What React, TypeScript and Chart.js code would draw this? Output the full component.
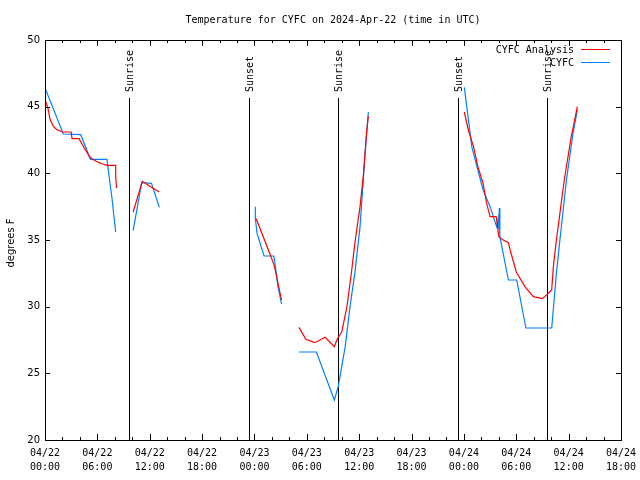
import React, { useEffect, useRef } from "react";
import { Chart, registerables } from "chart.js";

Chart.register(...registerables);

const TITLE = "Temperature for CYFC on 2024-Apr-22 (time in UTC)";
const Y_TITLE = "degrees F";
const SERIES_NAMES = ["CYFC Analysis", "CYFC"];
const SERIES_COLORS = ["#ff0000", "#0080ff"];

// hours since 2024-04-22 00:00 UTC; null temp = gap
const analysisHours = [
  0.0, 0.3, 0.6, 1.0, 1.3, 2.0, 3.0, 3.1, 3.9, 4.5, 5.1, 5.6, 6.2, 6.6, 7.1, 8.1, 8.1, 8.2,
  9.0,
  10.1, 11.15, 11.5, 12.2, 13.1,
  18.0,
  24.2, 25.9, 26.3, 27.1,
  28.0,
  29.1, 29.9, 30.9, 32.1, 33.15, 33.5, 34.0, 34.6, 35.15, 35.5, 36.1, 36.5, 36.85, 37.05,
  42.0,
  48.05, 48.5, 49.1, 49.6, 50.2, 50.6, 51.0, 51.7, 52.0, 52.5, 53.1, 53.3, 54.0, 55.0, 55.95,
  57.0, 57.5, 58.06, 58.25, 58.6, 59.0, 59.5, 60.3, 61.0,
];
const analysisTemps = [
  45.5, 45.0, 44.0, 43.5, 43.3, 43.1, 43.1, 42.6, 42.6, 41.9, 41.25, 41.0, 40.8, 40.7, 40.6, 40.6, 39.75, 38.9,
  null,
  37.1, 39.4, 39.25, 38.95, 38.6,
  null,
  36.6, 33.75, 33.0, 30.5,
  null,
  28.45, 27.55, 27.3, 27.7, 27.0, 27.6, 28.1, 30.0, 32.75, 34.75, 37.5, 40.0, 43.1, 44.3,
  null,
  44.6, 43.25, 42.0, 40.5, 39.25, 37.75, 36.75, 36.75, 35.25, 35.0, 34.8, 34.25, 32.6, 31.5, 30.75,
  30.6, 30.9, 31.25, 33.0, 35.0, 37.0, 39.5, 42.75, 45.0,
];

const obsHours = [
  0.0, 2.1, 4.1, 5.2, 7.1, 7.3, 7.7, 7.9, 8.1,
  9.0,
  10.1, 11.08, 12.2, 13.1,
  18.0,
  24.1, 24.1, 24.3, 25.1, 26.2, 26.3, 26.7, 27.1,
  28.0,
  29.1, 31.1, 33.15, 33.6, 34.4, 34.95, 35.5, 36.1, 36.65, 37.05,
  42.0,
  48.05, 48.9, 49.6, 50.2, 51.0, 51.75, 51.95, 52.0, 52.06, 52.12, 53.1, 54.05, 55.1, 58.06,
  58.6, 59.0, 59.75, 60.5, 61.0,
];
const obsTemps = [
  46.4, 42.95, 42.9, 41.05, 41.05, 40.0, 38.0, 36.75, 35.6,
  null,
  35.7, 39.3, 39.25, 37.45,
  null,
  37.5, 36.6, 35.5, 33.8, 33.8, 33.5, 31.5, 30.2,
  null,
  26.6, 26.6, 23.0, 24.0, 27.0, 30.0, 32.5, 36.0, 41.25, 44.6,
  null,
  46.45, 42.0, 40.25, 38.75, 37.5, 36.0, 36.7, 35.8, 37.4, 35.25, 32.0, 32.0, 28.4, 28.4,
  32.5, 35.0, 39.5, 43.0, 44.75,
];

const sunHours = [9.63, 23.38, 33.57, 47.32, 57.52];
const sunLabels = ["Sunrise", "Sunset", "Sunrise", "Sunset", "Sunrise"];
const SUN_LINE_TOP = 45.65;

const X_MIN = 0;
const X_MAX = 66;
const X_STEP = 6;
const X_MINOR = 2;
const Y_MIN = 20;
const Y_MAX = 50;
const Y_STEP = 5;
const MONTH = "04";
const START_DAY = 22;

const MONO = "'DejaVu Sans Mono', monospace";
const SANS = "'DejaVu Sans', sans-serif";

function toPoints(hours: number[], temps: (number | null)[]) {
  return hours.map((h, i) => ({ x: h, y: temps[i] }));
}

function fmtTick(v: number): string[] {
  const day = START_DAY + Math.floor(v / 24);
  const hr = Math.round(v % 24);
  return [`${MONTH}/${day}`, `${String(hr).padStart(2, "0")}:00`];
}

const decorPlugin = {
  id: "decor",
  beforeDatasetsDraw(chart: any) {
    const { ctx, chartArea, scales } = chart;
    const xs = scales.x;
    const ys = scales.y;
    ctx.save();
    ctx.strokeStyle = "#000";
    ctx.lineWidth = 1;
    ctx.fillStyle = "#000";
    ctx.font = `10px ${MONO}`;
    const topY = ys.getPixelForValue(SUN_LINE_TOP);
    sunHours.forEach((h, i) => {
      const px = Math.round(xs.getPixelForValue(h)) + 0.5;
      ctx.beginPath();
      ctx.moveTo(px, topY);
      ctx.lineTo(px, chartArea.bottom);
      ctx.stroke();
      ctx.save();
      ctx.translate(px + 1, topY - 6);
      ctx.rotate(-Math.PI / 2);
      ctx.textAlign = "left";
      ctx.textBaseline = "middle";
      ctx.fillText(sunLabels[i], 0, 0);
      ctx.restore();
    });
    ctx.restore();
  },
  afterDraw(chart: any) {
    const { ctx, chartArea, scales } = chart;
    const xs = scales.x;
    const ys = scales.y;
    const { left, right, top, bottom } = chartArea;
    ctx.save();
    ctx.strokeStyle = "#000";
    ctx.lineWidth = 1;
    ctx.strokeRect(Math.round(left) + 0.5, Math.round(top) + 0.5, Math.round(right - left), Math.round(bottom - top));
    ctx.beginPath();
    for (let v = Y_MIN; v <= Y_MAX; v += Y_STEP) {
      const py = Math.round(ys.getPixelForValue(v)) + 0.5;
      ctx.moveTo(left, py);
      ctx.lineTo(left + 5, py);
      ctx.moveTo(right, py);
      ctx.lineTo(right - 5, py);
    }
    for (let v = X_MIN; v <= X_MAX; v += X_MINOR) {
      const px = Math.round(xs.getPixelForValue(v)) + 0.5;
      const len = v % X_STEP === 0 ? 6 : 3;
      ctx.moveTo(px, bottom);
      ctx.lineTo(px, bottom - len);
      ctx.moveTo(px, top);
      ctx.lineTo(px, top + len);
    }
    ctx.stroke();
    ctx.fillStyle = "#000";
    ctx.font = `10px ${MONO}`;
    ctx.textAlign = "center";
    ctx.textBaseline = "middle";
    ctx.fillText(TITLE, (left + right) / 2, 20);
    ctx.save();
    ctx.translate(11, 243);
    ctx.rotate(-Math.PI / 2);
    ctx.font = `10px ${SANS}`;
    ctx.fillText(Y_TITLE, 0, 0);
    ctx.restore();
    ctx.font = `10px ${MONO}`;
    ctx.textAlign = "right";
    SERIES_NAMES.forEach((name, i) => {
      const y = 50 + i * 13;
      ctx.fillStyle = "#000";
      ctx.fillText(name, 574, y);
      ctx.strokeStyle = SERIES_COLORS[i];
      ctx.beginPath();
      ctx.moveTo(581, y - 0.5);
      ctx.lineTo(610, y - 0.5);
      ctx.stroke();
    });
    ctx.restore();
  },
};

export default function App() {
  const canvasRef = useRef<HTMLCanvasElement | null>(null);
  useEffect(() => {
    document.body.style.margin = "0";
    const canvas = canvasRef.current;
    if (!canvas) return;
    const chart = new Chart(canvas, {
      type: "line",
      data: {
        datasets: [
          {
            label: SERIES_NAMES[0],
            data: toPoints(analysisHours, analysisTemps) as any,
            borderColor: SERIES_COLORS[0],
            borderWidth: 1.2,
            pointRadius: 0,
            tension: 0,
            spanGaps: false,
          },
          {
            label: SERIES_NAMES[1],
            data: toPoints(obsHours, obsTemps) as any,
            borderColor: SERIES_COLORS[1],
            borderWidth: 1.2,
            pointRadius: 0,
            tension: 0,
            spanGaps: false,
          },
        ],
      },
      options: {
        animation: false,
        responsive: false,
        devicePixelRatio: 1,
        layout: { padding: { top: 40, right: 19, left: 0, bottom: 0 } },
        plugins: {
          legend: { display: false },
          title: { display: false },
          tooltip: { enabled: false },
        },
        scales: {
          x: {
            type: "linear",
            min: X_MIN,
            max: X_MAX,
            grid: { display: false, drawTicks: false },
            border: { display: false },
            ticks: {
              stepSize: X_STEP,
              autoSkip: false,
              maxRotation: 0,
              minRotation: 0,
              padding: 6,
              color: "#000",
              font: { family: MONO, size: 10, lineHeight: 1.4 },
              callback: (v: any) => fmtTick(Number(v)),
            },
            afterFit: (s: any) => {
              s.height = 40;
              s.paddingLeft = 0;
              s.paddingRight = 0;
            },
          },
          y: {
            type: "linear",
            min: Y_MIN,
            max: Y_MAX,
            grid: { display: false, drawTicks: false },
            border: { display: false },
            ticks: {
              stepSize: Y_STEP,
              padding: 5,
              color: "#000",
              font: { family: SANS, size: 10 },
            },
            afterFit: (s: any) => {
              s.width = 45;
              s.paddingTop = 0;
              s.paddingBottom = 0;
            },
          },
        },
      },
      plugins: [decorPlugin],
    });
    return () => chart.destroy();
  }, []);
  return (
    <div style={{ position: "fixed", left: 0, top: 0, width: 640, height: 480, background: "#fff" }}>
      <canvas ref={canvasRef} width={640} height={480} />
    </div>
  );
}
